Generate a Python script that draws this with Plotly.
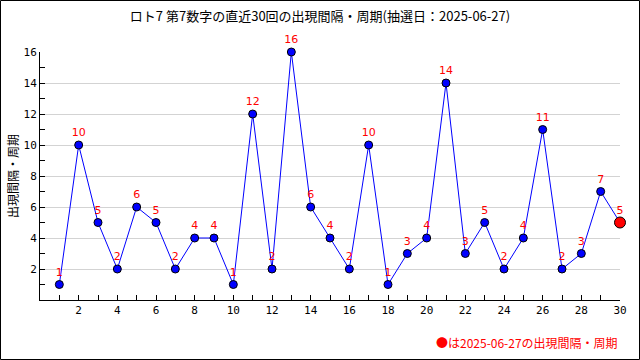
import plotly.graph_objects as go

draws = list(range(1, 31))
intervals = [1, 10, 5, 2, 6, 5, 2, 4, 4, 1, 12, 2, 16, 6, 4, 2, 10, 1, 3, 4, 14, 3, 5, 2, 4, 11, 2, 3, 7, 5]
x_ticks = list(range(2, 31, 2))
y_ticks = list(range(2, 17, 2))
title_text = "ロト7 第7数字の直近30回の出現間隔・周期(抽選日：2025-06-27)"
y_title = "出現間隔・周期"
note_text = "●は2025-06-27の出現間隔・周期"

font_jp = "Noto Sans CJK JP"
PW, PH = 580, 248

fig = go.Figure()
fig.add_trace(go.Scatter(
    x=draws, y=intervals, mode="lines+markers+text",
    line=dict(color="#0000ff", width=1),
    marker=dict(color="#0000ff", size=8, line=dict(color="#000000", width=1)),
    text=[str(v) for v in intervals], textposition="top center",
    textfont=dict(color="#ff0000", size=11, family="DejaVu Sans"),
    cliponaxis=False, hoverinfo="x+y", showlegend=False,
))
fig.add_trace(go.Scatter(
    x=[draws[-1]], y=[intervals[-1]], mode="markers",
    marker=dict(color="#ff0000", size=11, line=dict(color="#000000", width=1)),
    cliponaxis=False, showlegend=False, hoverinfo="skip",
))

fig.update_layout(
    width=640, height=360,
    margin=dict(l=40, r=20, t=52, b=60, autoexpand=False),
    paper_bgcolor="white", plot_bgcolor="white",
    title=dict(text=title_text, x=0.5, xanchor="center", y=1 - 16/360, yanchor="middle",
               font=dict(family=font_jp, size=13, color="#000000")),
    xaxis=dict(range=[0, 30], tickvals=x_ticks, ticktext=[str(v) for v in x_ticks],
               ticks="inside", ticklen=5, tickcolor="#000000", showgrid=False, zeroline=False,
               showline=True, linecolor="#000000", linewidth=1, automargin=False,
               minor=dict(ticks="inside", dtick=1, ticklen=5, tickcolor="#000000", showgrid=False),
               tickfont=dict(family="DejaVu Sans Mono", size=11, color="#000000")),
    yaxis=dict(range=[0, 16], tickvals=y_ticks, ticktext=[str(v) for v in y_ticks],
               ticks="inside", ticklen=5, tickcolor="#000000", showgrid=True, gridcolor="#d3d3d3",
               zeroline=False, showline=True, linecolor="#000000", linewidth=1, automargin=False,
               minor=dict(ticks="inside", dtick=1, ticklen=5, tickcolor="#000000", showgrid=False),
               tickfont=dict(family="DejaVu Sans Mono", size=11, color="#000000")),
    annotations=[
        dict(text=note_text, xref="paper", yref="paper", x=1.0, y=-42/PH,
             xanchor="right", yanchor="middle", showarrow=False,
             font=dict(family=font_jp, size=12, color="#ff0000")),
        dict(text=y_title, xref="paper", yref="paper", x=-28/PW, y=0.5, textangle=-90,
             xanchor="center", yanchor="middle", showarrow=False,
             font=dict(family=font_jp, size=12, color="#000000")),
    ],
    shapes=[dict(type="rect", xref="paper", yref="paper",
                 x0=-39.5/PW, x1=1 + 19.5/PW, y0=-59.5/PH, y1=1 + 51.5/PH,
                 line=dict(color="#000000", width=1), fillcolor="rgba(0,0,0,0)", layer="above")],
)

fig.write_html("out.html", config={"displayModeBar": False},
               post_script="document.body.style.margin='0';document.body.style.overflow='hidden';")
